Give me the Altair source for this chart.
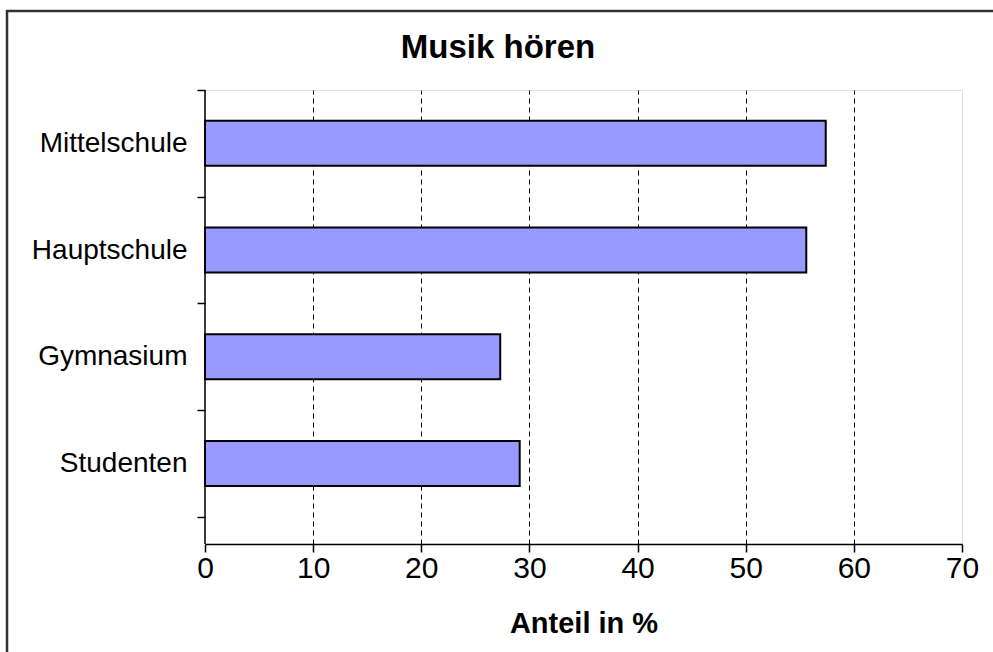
import altair as alt
import pandas as pd

categories = ["Mittelschule", "Hauptschule", "Gymnasium", "Studenten"]
values = [57.4, 55.6, 27.3, 29.1]
x_ticks = [0, 10, 20, 30, 40, 50, 60, 70]
title_text = "Musik hören"

df = pd.DataFrame({"Schule": categories, "Anteil": values})

W, H = 757, 454
FONT = "Liberation Sans"

bars = alt.Chart(df).mark_bar(
    color="#9999FF", stroke="black", strokeWidth=2, height=45
).encode(
    x=alt.X(
        "Anteil:Q",
        scale=alt.Scale(domain=[0, 70], nice=False, zero=True),
        axis=alt.Axis(
            values=x_ticks,
            title="Anteil in %",
            titleFontSize=29,
            titleFontWeight="bold",
            titleFont=FONT,
            titleColor="black",
            titlePadding=26,
            labelFontSize=30,
            labelFont=FONT,
            labelColor="black",
            labelPadding=1,
            labelFlush=False,
            domainColor="black",
            domainWidth=1.5,
            tickColor="black",
            tickSize=8,
            tickWidth=1.5,
            grid=True,
            gridColor="black",
            gridDash=[5, 4],
            gridWidth=1,
            gridOpacity={
                "condition": {"test": "datum.value === 0 || datum.value === 70", "value": 0},
                "value": 1,
            },
        ),
    ),
    y=alt.Y(
        "Schule:N",
        sort=categories,
        scale=alt.Scale(domain=categories, paddingInner=0, paddingOuter=0.1276, align=0),
        axis=alt.Axis(
            title=None,
            domain=False,
            tickBand="extent",
            tickColor="black",
            tickSize=8,
            tickWidth=1.5,
            labelFontSize=28,
            labelFont=FONT,
            labelColor="black",
            labelPadding=10,
            grid=False,
        ),
    ),
)

frame = alt.Chart(alt.Data(values=[{"a": 1}])).mark_rect(
    filled=False, stroke="#333333", strokeWidth=2.5
).encode(
    x=alt.value(-198), x2=alt.value(800), y=alt.value(-79), y2=alt.value(620)
)

left_line = alt.Chart(alt.Data(values=[{"a": 1}])).mark_rule(
    color="black", strokeWidth=1.5
).encode(
    x=alt.value(0), y=alt.value(0), y2=alt.value(H)
)

title = alt.Chart(alt.Data(values=[{"t": title_text}])).mark_text(
    font=FONT, fontSize=33, fontWeight="bold", color="black",
    align="center", baseline="middle"
).encode(
    text="t:N", x=alt.value(293), y=alt.value(-42)
)

chart = alt.layer(frame, bars, left_line, title).properties(
    width=W,
    height=H,
    autosize=alt.AutoSizeParams(type="none"),
    padding={"left": 205, "top": 90, "right": 31, "bottom": 108},
).configure_view(
    stroke="#808080", strokeWidth=2
).configure(
    background="white", font=FONT
)

chart.save("out.html", embed_options={"renderer": "svg", "actions": False})
